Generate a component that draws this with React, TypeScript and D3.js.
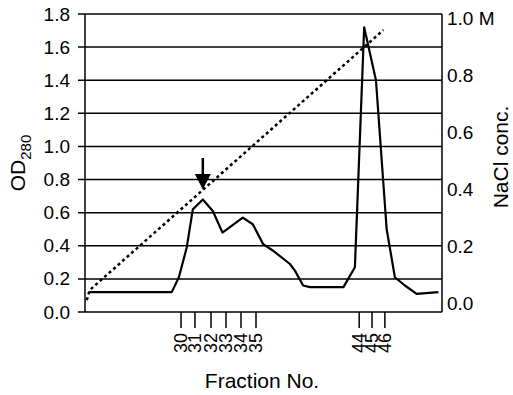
import * as d3 from 'd3';

// elution position (arbitrary units across the plot) and OD280 readings
const elutionPos = [1.2, 24.3, 26.3, 28.5, 30.2, 33.0, 35.8, 38.5, 44.2, 47.0, 49.9, 52.7, 57.4, 58.8, 61.1, 63.0, 72.4, 75.6, 78.2, 81.5, 84.5, 86.8, 89.6, 92.9, 99.0];
const od280 = [0.12, 0.12, 0.21, 0.39, 0.62, 0.68, 0.61, 0.48, 0.57, 0.53, 0.41, 0.37, 0.29, 0.25, 0.16, 0.15, 0.15, 0.27, 1.72, 1.40, 0.50, 0.21, 0.16, 0.11, 0.12];

// NaCl gradient (dotted)
const gradientPos = [0.5, 1.3, 83.6];
const naclConc = [0.01, 0.045, 0.958];

// fraction tick marks
const fractionPos = [26.9, 30.8, 35.3, 39.5, 43.7, 47.9, 76.8, 80.4, 84.0];
const fractionLabels = ['30', '31', '32', '33', '34', '35', '44', '45', '46'];

const odTicks = [0, 0.2, 0.4, 0.6, 0.8, 1.0, 1.2, 1.4, 1.6, 1.8];
const naclTicks = [0, 0.2, 0.4, 0.6, 0.8, 1.0];

// arrow marking the active fraction
const arrowPos = 33.0;
const arrowTop = 0.93;
const arrowTip = 0.74;

const font = "'Liberation Sans', Arial, sans-serif";

export default function App() {
  const x = d3.scaleLinear().domain([0, 100]).range([85, 442]);
  const y = d3.scaleLinear().domain([0, 1.8]).range([312, 14]);
  const yR = d3.scaleLinear().domain([0, 1]).range([303, 18]);

  const odLine = d3.line<number>()
    .x((_, i) => x(elutionPos[i]))
    .y(d => y(d));
  const naclLine = d3.line<number>()
    .x((_, i) => x(gradientPos[i]))
    .y(d => yR(d));

  const ax = x(arrowPos);
  const headTop = y(arrowTop) + 16;

  return (
    <svg width={513} height={395} style={{ position: 'absolute', left: 0, top: 0, background: '#fff' }}
      fontFamily={font}>
      {/* grid lines with left ticks */}
      {odTicks.map(t => (
        <line key={t} x1={78} x2={x(100)} y1={y(t)} y2={y(t)} stroke="#000" strokeWidth={1.5} />
      ))}
      <line x1={x(0)} x2={x(0)} y1={y(1.8)} y2={y(0)} stroke="#000" strokeWidth={1.5} />
      <line x1={x(100)} x2={x(100)} y1={y(1.8)} y2={y(0)} stroke="#000" strokeWidth={1.5} />

      {odTicks.map(t => (
        <text key={t} x={70} y={y(t)} textAnchor="end" dominantBaseline="central" fontSize={19}>
          {t.toFixed(1)}
        </text>
      ))}
      {naclTicks.map(t => (
        <text key={t} x={447} y={yR(t)} dominantBaseline="central" fontSize={19}>
          {t.toFixed(1) + (t === 1 ? ' M' : '')}
        </text>
      ))}

      {/* fraction ticks */}
      {fractionPos.map((p, i) => (
        <g key={fractionLabels[i]}>
          <line x1={x(p)} x2={x(p)} y1={y(0)} y2={328} stroke="#000" strokeWidth={1.5} />
          <text transform={`translate(${x(p)},333) rotate(-90)`} textAnchor="end" dominantBaseline="central" fontSize={18}>
            {fractionLabels[i]}
          </text>
        </g>
      ))}

      <path d={naclLine(naclConc) ?? ''} fill="none" stroke="#000" strokeWidth={2.5} strokeDasharray="3,3" />
      <path d={odLine(od280) ?? ''} fill="none" stroke="#000" strokeWidth={2.2} strokeLinejoin="round" />

      {/* arrow */}
      <line x1={ax} x2={ax} y1={y(arrowTop)} y2={headTop + 2} stroke="#000" strokeWidth={2.5} />
      <path d={`M${ax - 8},${headTop} L${ax + 8},${headTop} L${ax},${y(arrowTip)} Z`} fill="#000" />

      {/* axis titles */}
      <text x={262} y={388} textAnchor="middle" fontSize={21}>Fraction No.</text>
      <text transform="translate(25,163) rotate(-90)" textAnchor="middle" fontSize={21}>
        OD<tspan fontSize={15} dy={6}>280</tspan>
      </text>
      <text transform="translate(508,157) rotate(-90)" textAnchor="middle" fontSize={21}>NaCl conc.</text>
    </svg>
  );
}
